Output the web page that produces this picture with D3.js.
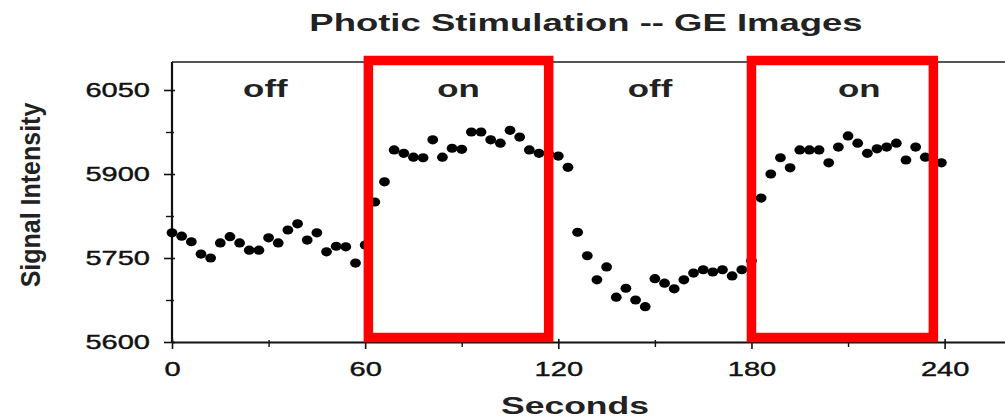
<!DOCTYPE html>
<html>
<head>
<meta charset="utf-8">
<script src="https://cdn.jsdelivr.net/npm/d3@7"></script>
<style>
  html, body { margin: 0; padding: 0; background: #fff; }
  #chart { width: 1005px; height: 420px; }
  svg { display: block; font-family: "Liberation Sans", Arial, sans-serif; }
</style>
</head>
<body>
<div id="chart"></div>
<script>
// values
const seconds = [
  0, 3, 6, 9, 12, 15, 18, 21, 24, 27, 30, 33, 36, 39, 42, 45, 48, 51, 54, 57,
  60, 63, 66, 69, 72, 75, 78, 81, 84, 87, 90, 93, 96, 99, 102, 105, 108, 111, 114, 117,
  120, 123, 126, 129, 132, 135, 138, 141, 144, 147, 150, 153, 156, 159, 162, 165, 168, 171, 174, 177,
  180, 183, 186, 189, 192, 195, 198, 201, 204, 207, 210, 213, 216, 219, 222, 225, 228, 231, 234, 239,
];
const signal = [
  5795, 5789, 5779, 5757, 5750, 5777, 5788, 5777, 5764, 5764, 5786, 5777, 5800, 5811, 5782, 5795, 5761, 5771, 5770, 5741,
  5773, 5850, 5886, 5943, 5937, 5930, 5929, 5961, 5930, 5946, 5944, 5975, 5975, 5961, 5955, 5978, 5966, 5943, 5937, 5936,
  5932, 5912, 5796, 5754, 5711, 5734, 5680, 5696, 5675, 5663, 5713, 5705, 5695, 5711, 5723, 5729, 5725, 5729, 5718, 5729,
  5745, 5857, 5900, 5929, 5911, 5943, 5943, 5943, 5920, 5948, 5968, 5955, 5937, 5945, 5948, 5955, 5925, 5948, 5930, 5920,
];

const xTicks = [0, 60, 120, 180, 240];
const xMinorTicks = [30, 90, 150, 210];
const yTicks = [5600, 5750, 5900, 6050];
const yMinorTicks = [5675, 5825, 5975];

const phaseLabels = ["off", "on", "off", "on"];
const phaseCenters = [29, 89, 148.5, 213.5];
const stimStart = [61, 180];
const stimEnd = [117, 236.5];

const titleText = "Photic Stimulation -- GE Images";
const xLabelText = "Seconds";
const yLabelText = "Signal Intensity";

const rows = seconds.map((t, i) => ({ t, v: signal[i] }));
const blocks = stimStart.map((s, i) => ({ start: s, end: stimEnd[i] }));

// the scan looks stretched sideways, so widen text the same way
const K = 1.45;
function stretch(sel, k) {
  sel.each(function () {
    const w = this.getComputedTextLength();
    d3.select(this)
      .attr("textLength", w * k)
      .attr("lengthAdjust", "spacingAndGlyphs");
  });
}

const width = 1005;
const height = 420;
const margin = { top: 62, right: -4, bottom: 78, left: 172 };

const svg = d3
  .select("#chart")
  .append("svg")
  .attr("width", width)
  .attr("height", height);

const x = d3
  .scaleLinear()
  .domain([0, 260])
  .range([margin.left, width - margin.right]);

const y = d3
  .scaleLinear()
  .domain([5600, 6100])
  .range([height - margin.bottom, margin.top]);

const ink = "#111";

// frame top
svg
  .append("line")
  .attr("x1", x(0))
  .attr("x2", x(260))
  .attr("y1", y(6100))
  .attr("y2", y(6100))
  .attr("stroke", "#555")
  .attr("stroke-width", 2);

// Y axis
const yAxis = svg
  .append("g")
  .attr("transform", `translate(${x(0)},0)`)
  .call(
    d3
      .axisLeft(y)
      .tickValues(yTicks)
      .tickFormat(d3.format("d"))
      .tickSize(8)
      .tickPadding(14)
      .tickSizeOuter(0),
  );

yAxis
  .select(".domain")
  .attr("stroke", ink)
  .attr("stroke-width", 2.2)
  .attr("d", `M0,${y(5600)}V${y(6100)}`);
yAxis.selectAll(".tick line").attr("x1", 3).attr("stroke", ink).attr("stroke-width", 1.6);
yAxis
  .selectAll(".tick text")
  .attr("font-size", 20)
  .attr("fill", ink)
  .attr("stroke", ink)
  .attr("stroke-width", 0.4)
  .call(stretch, K);

svg
  .append("g")
  .attr("transform", `translate(${x(0)},0)`)
  .call(d3.axisLeft(y).tickValues(yMinorTicks).tickSize(6).tickFormat("").tickSizeOuter(0))
  .call((g) => g.select(".domain").remove())
  .call((g) => g.selectAll("line").attr("x1", 2).attr("stroke", ink).attr("stroke-width", 1.4));

// X axis
const xAxis = svg
  .append("g")
  .attr("transform", `translate(0,${y(5600)})`)
  .call(
    d3
      .axisBottom(x)
      .tickValues(xTicks)
      .tickFormat(d3.format("d"))
      .tickSize(7)
      .tickPadding(13)
      .tickSizeOuter(0),
  );

xAxis.select(".domain").attr("stroke", ink).attr("stroke-width", 2.2);
xAxis.selectAll(".tick line").attr("y1", -3).attr("stroke", ink).attr("stroke-width", 1.6);
xAxis
  .selectAll(".tick text")
  .attr("font-size", 20)
  .attr("fill", ink)
  .attr("stroke", ink)
  .attr("stroke-width", 0.4)
  .call(stretch, K);

svg
  .append("g")
  .attr("transform", `translate(0,${y(5600)})`)
  .call(d3.axisBottom(x).tickValues(xMinorTicks).tickSize(5).tickFormat("").tickSizeOuter(0))
  .call((g) => g.select(".domain").remove())
  .call((g) => g.selectAll("line").attr("y1", -2).attr("stroke", ink).attr("stroke-width", 1.4));

// data points
svg
  .append("g")
  .selectAll("ellipse")
  .data(rows)
  .join("ellipse")
  .attr("cx", (d) => x(d.t))
  .attr("cy", (d) => y(d.v))
  .attr("rx", 5.4)
  .attr("ry", 4.6)
  .attr("fill", "#000");

// stimulus boxes
svg
  .append("g")
  .selectAll("rect")
  .data(blocks)
  .join("rect")
  .attr("x", (d) => x(d.start))
  .attr("y", y(6100) - 1.5)
  .attr("width", (d) => x(d.end) - x(d.start))
  .attr("height", y(5600) - y(6100) - 3)
  .attr("fill", "none")
  .attr("stroke", "#ff0000")
  .attr("stroke-width", 9.5);

// phase labels
svg
  .append("g")
  .selectAll("text")
  .data(phaseLabels)
  .join("text")
  .attr("x", (d, i) => x(phaseCenters[i]))
  .attr("y", 97)
  .attr("text-anchor", "middle")
  .attr("font-size", 24)
  .attr("font-weight", "bold")
  .attr("fill", "#222")
  .text((d) => d)
  .call(stretch, K);

// title
svg
  .append("text")
  .attr("x", 586)
  .attr("y", 31)
  .attr("text-anchor", "middle")
  .attr("font-size", 24)
  .attr("font-weight", "bold")
  .attr("fill", "#222")
  .text(titleText)
  .call(stretch, 1.52);

// axis titles
svg
  .append("text")
  .attr("x", 575)
  .attr("y", 414)
  .attr("text-anchor", "middle")
  .attr("font-size", 24)
  .attr("font-weight", "bold")
  .attr("fill", "#222")
  .text(xLabelText)
  .call(stretch, 1.48);

svg
  .append("text")
  .attr("transform", `translate(40,195) rotate(-90) scale(1,1.35)`)
  .attr("text-anchor", "middle")
  .attr("font-size", 20)
  .attr("font-weight", "bold")
  .attr("fill", "#222")
  .text(yLabelText)
  .call(stretch, 1.25);
</script>
</body>
</html>
